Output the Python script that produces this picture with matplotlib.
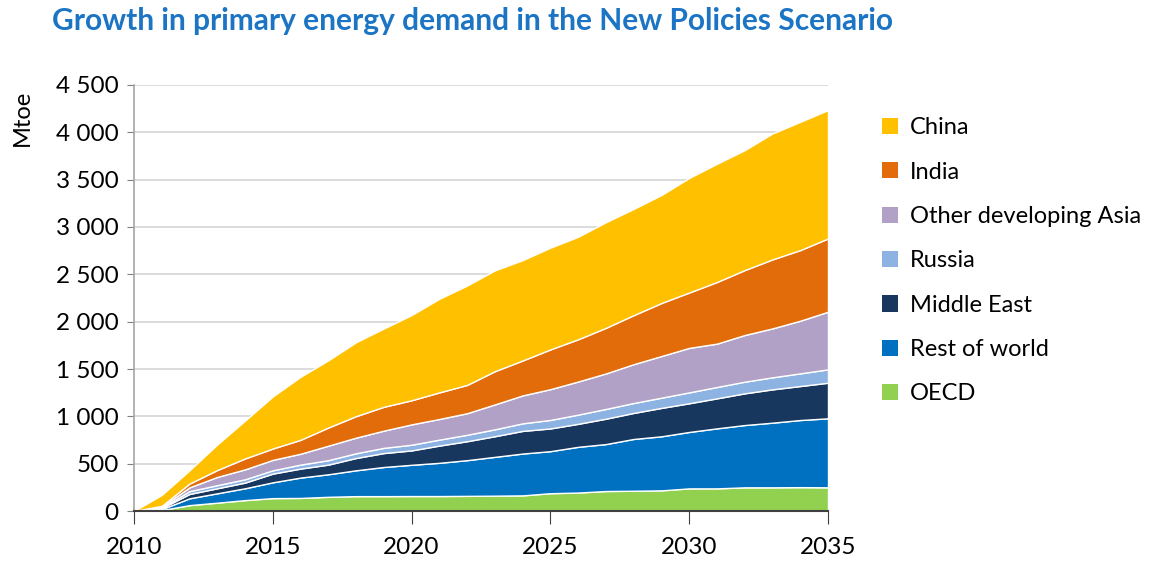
import matplotlib
matplotlib.use("Agg")
import matplotlib.pyplot as plt
from matplotlib.ticker import FuncFormatter
from matplotlib.patches import Patch

plt.rcParams['font.family'] = ['Lato', 'DejaVu Sans']

years = list(range(2010, 2036))

# Incremental primary energy demand (Mtoe) by region, stacked bottom-to-top
oecd = [0, 10, 62, 88, 115, 136, 138, 150, 157, 157, 158, 158, 160, 162, 165, 188,
        195, 211, 214, 218, 239, 239, 250, 250, 252, 250]
rest_of_world = [0, 10, 72, 99, 125, 167, 215, 238, 273, 308, 330, 351, 377, 410, 442, 444,
                 483, 496, 547, 571, 596, 634, 658, 683, 709, 729]
middle_east = [0, 10, 46, 53, 60, 92, 95, 102, 130, 147, 152, 182, 200, 218, 239, 240,
               243, 268, 275, 300, 303, 317, 335, 352, 359, 376]
russia = [0, 5, 30, 33, 35, 35, 42, 47, 50, 55, 60, 63, 68, 73, 80, 90,
          97, 103, 105, 108, 115, 120, 123, 127, 134, 141]
other_dev_asia = [0, 10, 40, 87, 105, 110, 115, 153, 165, 182, 215, 218, 228, 263, 295, 325,
                  350, 375, 410, 440, 470, 458, 493, 517, 556, 609]
india = [0, 10, 40, 73, 115, 120, 147, 192, 227, 252, 255, 281, 299, 351, 369, 420,
         446, 482, 518, 560, 585, 651, 686, 729, 746, 774]
china = [0, 115, 140, 270, 400, 550, 666, 710, 781, 827, 900, 989, 1050, 1065, 1060, 1075,
         1083, 1116, 1122, 1141, 1210, 1249, 1267, 1330, 1355, 1356]

series = [oecd, rest_of_world, middle_east, russia, other_dev_asia, india, china]
labels = ["OECD", "Rest of world", "Middle East", "Russia",
          "Other developing Asia", "India", "China"]
colors = ["#92D050", "#0070C0", "#17375E", "#8DB3E2", "#B2A1C7", "#E36C0A", "#FFC000"]

y_ticks = list(range(0, 4501, 500))
x_ticks = list(range(2010, 2036, 5))

fig = plt.figure(figsize=(11.67, 5.64), dpi=100)
ax = fig.add_axes([134 / 1167, 1 - 511 / 564, (828 - 134) / 1167, (511 - 85) / 564])

ax.stackplot(years, *series, colors=colors, edgecolor="white", linewidth=1.0, zorder=2)

ax.set_xlim(2010, 2035)
ax.set_ylim(0, 4500)
ax.set_yticks(y_ticks)
ax.set_xticks(x_ticks)
ax.yaxis.set_major_formatter(FuncFormatter(lambda v, p: f"{int(v):,}".replace(",", " ")))
ax.grid(axis="y", color="#D9D9D9", linewidth=1.3, zorder=0)
ax.set_axisbelow(True)

for s in ["top", "right"]:
    ax.spines[s].set_visible(False)
ax.spines["left"].set_color("#A6A6A6")
ax.spines["left"].set_linewidth(1.2)
ax.spines["bottom"].set_color("#404040")
ax.spines["bottom"].set_linewidth(1.5)

ax.tick_params(axis="y", direction="out", length=5, color="#808080", labelsize=17.5,
               pad=6, labelcolor="#000000")
ax.tick_params(axis="x", direction="out", length=9, color="#404040", labelsize=17.5,
               pad=10, labelcolor="#000000")

fig.text(22 / 1167, 1 - 118 / 564, "Mtoe", rotation=90, fontsize=17,
         ha="center", va="center")

fig.text(52 / 1167, 1 - 21 / 564, "Growth in primary energy demand in the New Policies Scenario",
         fontsize=21.5, fontweight="bold", color="#1B75C4", ha="left", va="center")

handles = [Patch(facecolor=c, edgecolor="none") for c in colors[::-1]]
leg = fig.legend(handles, labels[::-1], loc="upper left",
                 bbox_to_anchor=(861 / 1167, 1 - 96 / 564), frameon=False,
                 fontsize=17, handlelength=0.68, handleheight=0.68,
                 handletextpad=0.5, labelspacing=0.99)

fig.savefig("out.png", dpi=100)
